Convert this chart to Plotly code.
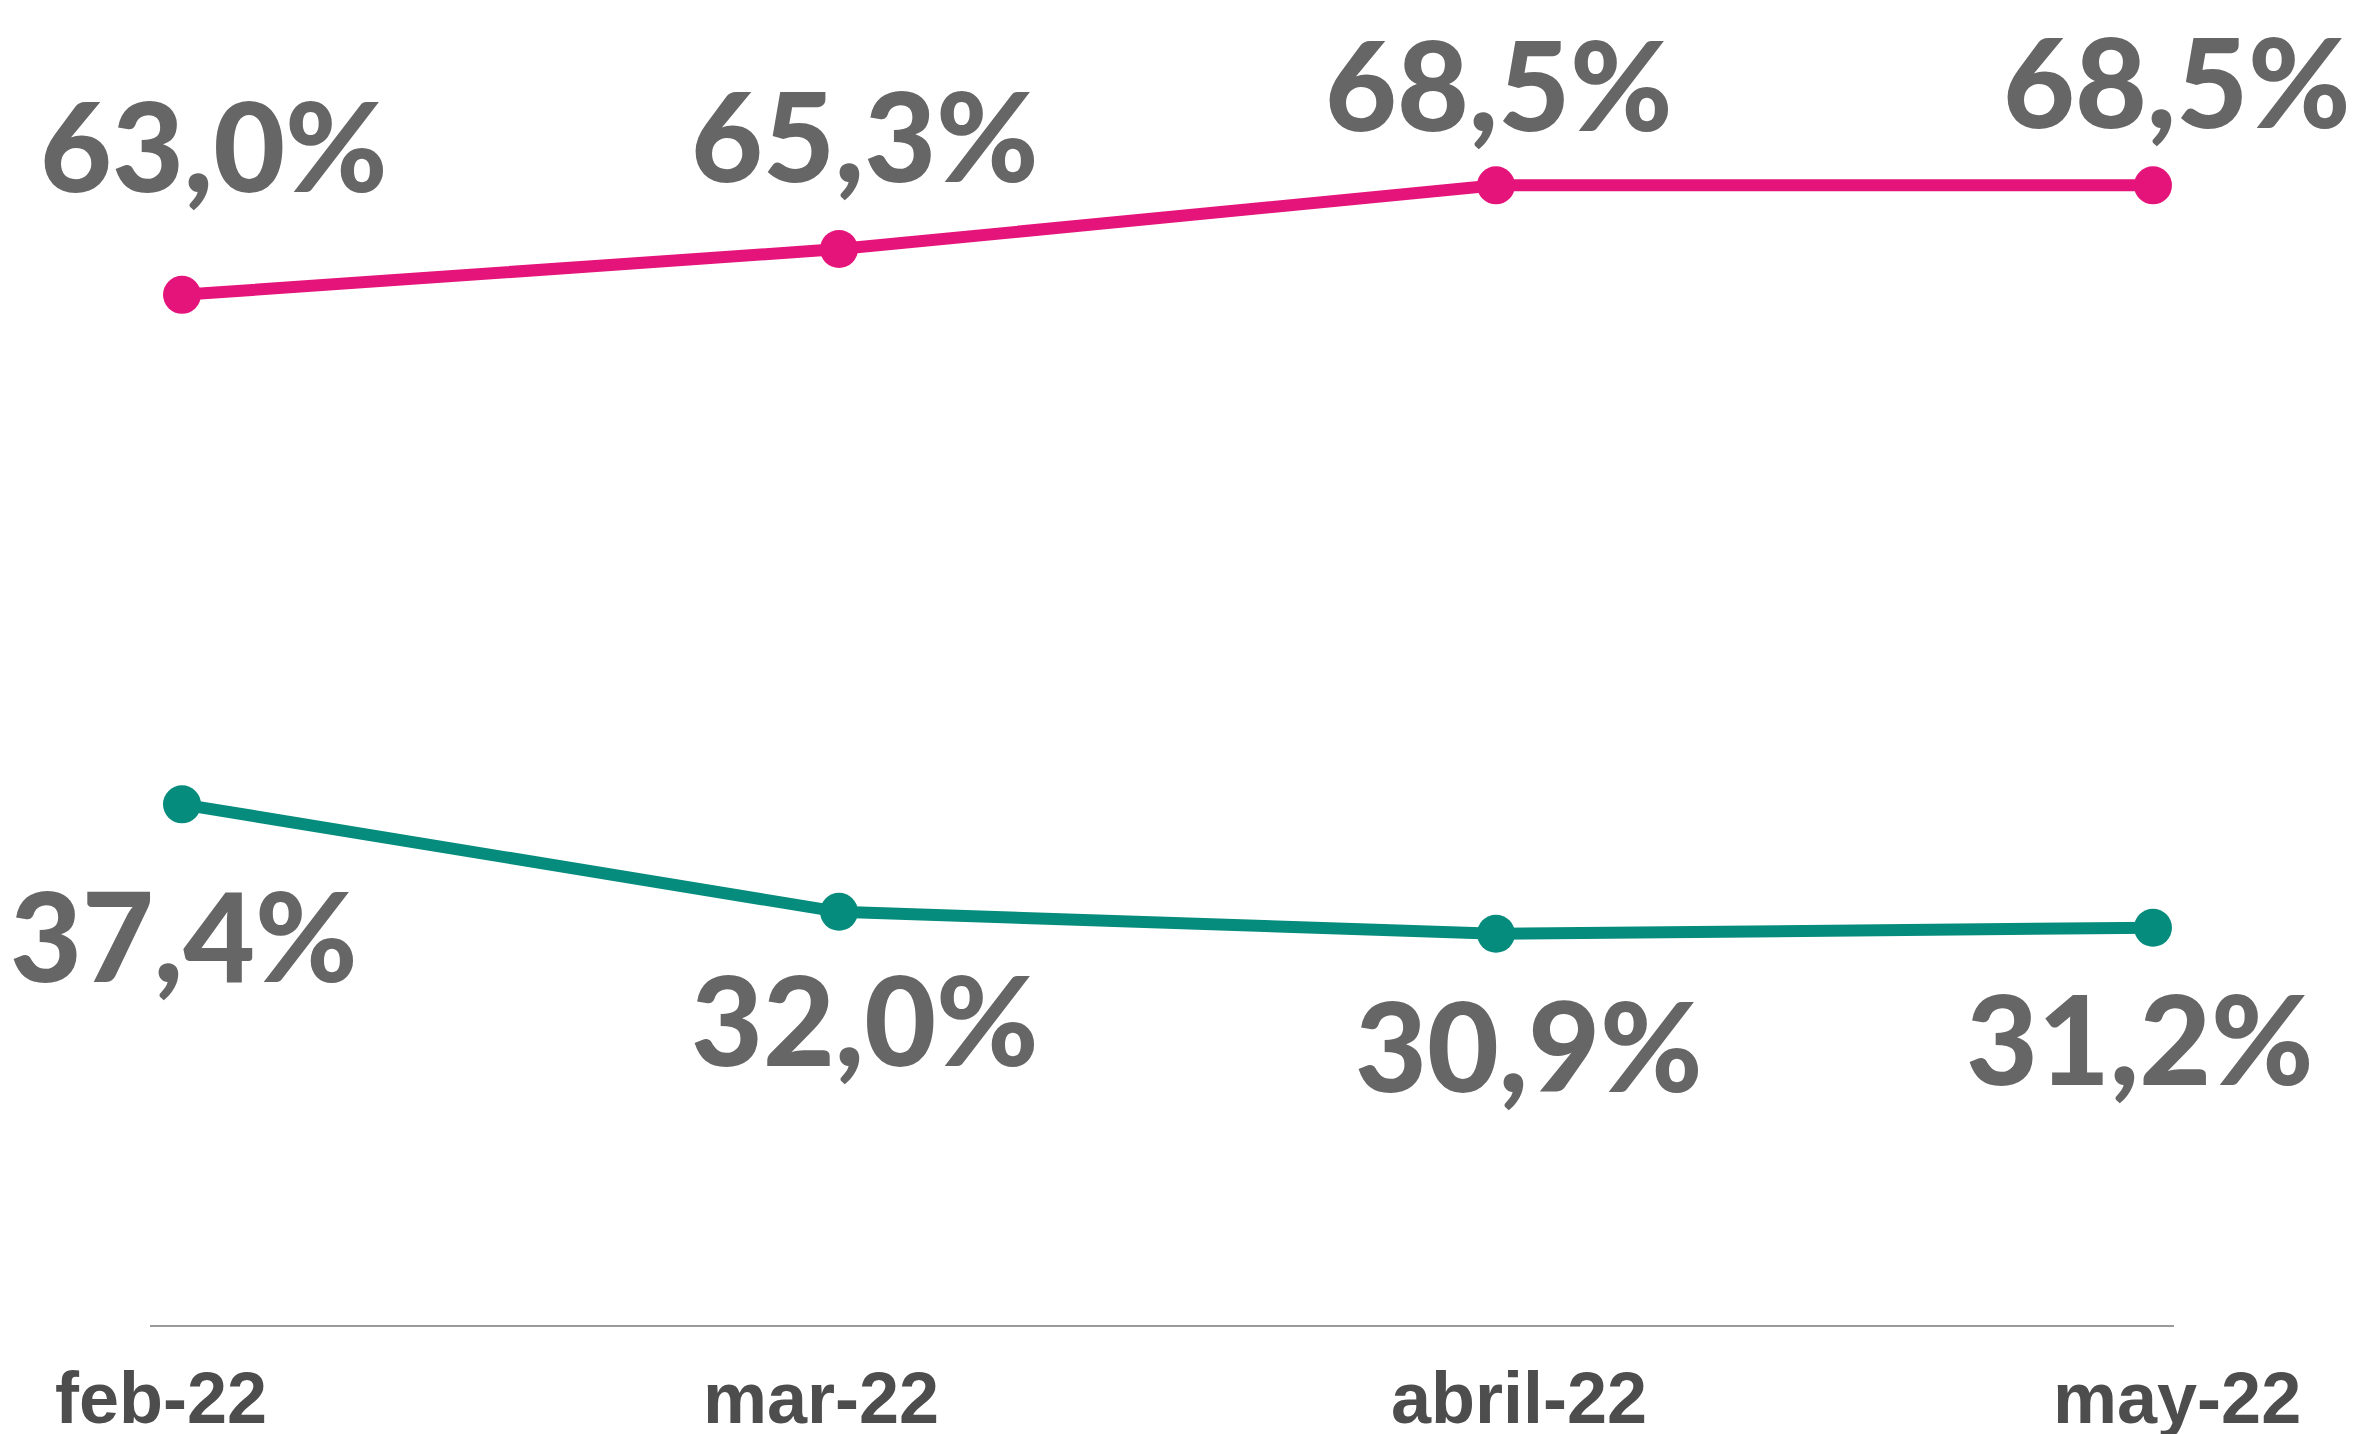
import plotly.graph_objects as go

categories = ["feb-22", "mar-22", "abril-22", "may-22"]
pink_values = [63.0, 65.3, 68.5, 68.5]
teal_values = [37.4, 32.0, 30.9, 31.2]
pink_labels = ["63,0%", "65,3%", "68,5%", "68,5%"]
teal_labels = ["37,4%", "32,0%", "30,9%", "31,2%"]

PINK = "#E5147A"
TEAL = "#068C7C"
TEXT = "#666666"
CAT = "#4D4D4D"

xs = list(range(len(categories)))

fig = go.Figure()
fig.add_trace(go.Scatter(x=xs, y=pink_values, mode="lines+markers",
                         line=dict(color=PINK, width=12),
                         marker=dict(color=PINK, size=38), cliponaxis=False,
                         hoverinfo="skip"))
fig.add_trace(go.Scatter(x=xs, y=teal_values, mode="lines+markers",
                         line=dict(color=TEAL, width=12),
                         marker=dict(color=TEAL, size=38), cliponaxis=False,
                         hoverinfo="skip"))

val_font = dict(family="Lato", size=124, color=TEXT, weight=900, style="normal")
pink_shift = [(32, 151), (26, 115), (3, 102), (24, 105)]
teal_shift = [(2, -130), (26, -106), (33, -110), (-13, -109)]
for i in xs:
    fig.add_annotation(x=i, y=pink_values[i], text=pink_labels[i], showarrow=False,
                       xanchor="center", yanchor="middle",
                       xshift=pink_shift[i][0], yshift=pink_shift[i][1], font=val_font)
    fig.add_annotation(x=i, y=teal_values[i], text=teal_labels[i], showarrow=False,
                       xanchor="center", yanchor="middle",
                       xshift=teal_shift[i][0], yshift=teal_shift[i][1], font=val_font)

cat_shift = [-21, -18, 23, 24]
for i in xs:
    fig.add_annotation(x=i, y=0, yref="paper", text=categories[i], showarrow=False,
                       xanchor="center", yanchor="middle", xshift=cat_shift[i], yshift=-73,
                       font=dict(family="Liberation Sans", size=72, color=CAT, weight=700))

fig.update_layout(
    width=2358, height=1434,
    margin=dict(l=142, r=192, t=48, b=117),
    paper_bgcolor="white", plot_bgcolor="white",
    showlegend=False,
    xaxis=dict(range=[-0.0487, 3.032], showgrid=False, zeroline=False,
               showticklabels=False, ticks="", showline=True,
               linecolor="#9A9A9A", linewidth=2),
    yaxis=dict(range=[11.24, 75], showgrid=False, zeroline=False,
               showticklabels=False, ticks="", showline=False),
)

fig.write_html("out.html")
